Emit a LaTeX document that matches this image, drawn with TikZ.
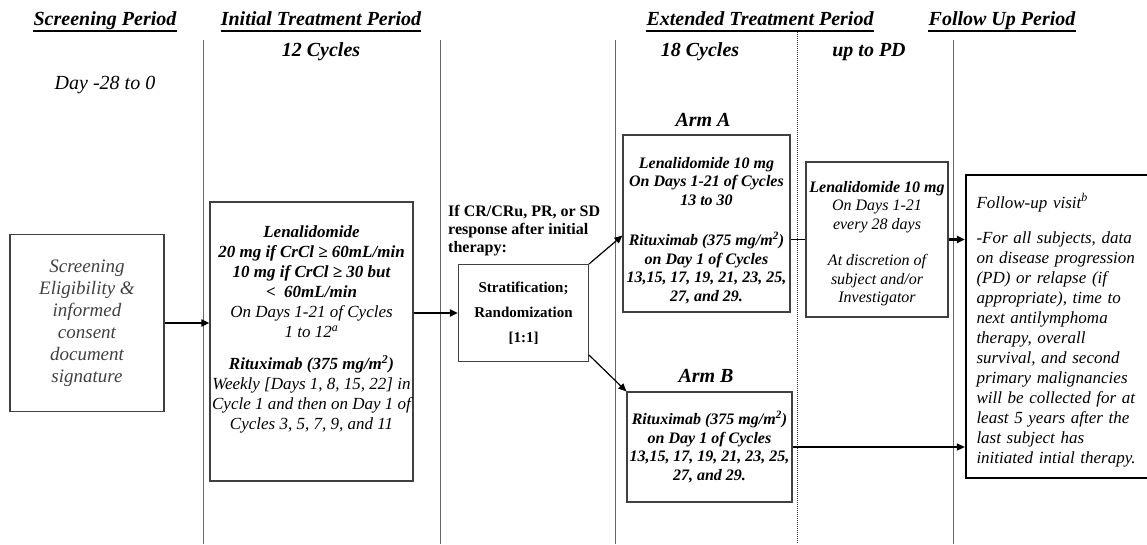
\documentclass[tikz,border=0pt]{standalone}
\usepackage{fontspec}
\setmainfont{Liberation Serif}
\usetikzlibrary{arrows.meta}

\begin{document}
\begin{tikzpicture}[x=1pt, y=-1pt,
		period/.style={inner sep=0pt, text depth=5pt, font=\fontsize{20}{24}\selectfont\bfseries\itshape},
		sublabel/.style={font=\fontsize{20}{24}\selectfont\itshape},
		armlabel/.style={font=\fontsize{20}{24}\selectfont\bfseries\itshape},
		box/.style={draw=black!75, line width=1.1pt, align=center, inner sep=2pt,
			font=\fontsize{16}{19}\selectfont\itshape},
		colline/.style={black!60, line width=0.9pt},
		thickarrow/.style={line width=2.2pt, -{Triangle[length=8pt,width=7pt]}},
		thinarrow/.style={line width=1.2pt, -{Triangle[length=8pt,width=7pt]}}
	]
		\useasboundingbox (0,0) rectangle (1147,544);

		% column separators
		\foreach \xx in {203,440,615,953}
			\draw [colline] (\xx,40) -- (\xx,544);
		\draw [densely dotted, black!80, line width=1pt] (797,30) -- (797,544);

		% period headings
		\node [period] (scrHd)	at (105,21) {Screening Period};
		\node [period] (initHd)	at (321,21) {Initial Treatment Period};
		\node [period] (extHd)	at (760,21) {Extended Treatment Period};
		\node [period] (fuHd)	at (1002,21) {Follow Up Period};
		\foreach \hd in {scrHd,initHd,extHd,fuHd}
			\draw [line width=1.8pt] (\hd.south west) -- (\hd.south east);

		\node [armlabel] (initCyc)	at (321,52) {12 Cycles};
		\node [sublabel] (scrDays)	at (105,85) {Day -28 to 0};
		\node [armlabel] (extCyc)	at (700,52) {18 Cycles};
		\node [armlabel] (extPD)	at (869,52) {up to PD};
		\node [armlabel] (armAHd)	at (703,120) {Arm A};
		\node [armlabel] (armBHd)	at (706,376) {Arm B};

		% boxes
		\node [box, minimum width=154, minimum height=177, text=black!75,
			font=\fontsize{19}{22}\selectfont\itshape] (scr) at (87,323)
			{Screening\\Eligibility \&\\informed\\consent\\document\\signature};

		\node [box, minimum width=203, minimum height=279, font=\fontsize{17}{20}\selectfont\itshape] (init) at (311.5,341.5)
			{\textbf{Lenalidomide}\\
			\textbf{20 mg if CrCl ≥ 60mL/min}\\
			\textbf{10 mg if CrCl ≥ 30 but}\\
			\textbf{<\ \ 60mL/min}\\
			On Days 1-21 of Cycles\\
			1 to 12\textsuperscript{a}\\[12pt]
			\textbf{Rituximab (375 mg/m\textsuperscript{2})}\\
			Weekly [Days 1, 8, 15, 22] in\\
			Cycle 1 and then on Day 1 of\\
			Cycles 3, 5, 7, 9, and 11\\[8pt]
			\mbox{}};

		\node [anchor=north west, align=left, inner sep=0pt,
			font=\fontsize{16}{18}\selectfont\bfseries] (resp) at (448,205)
			{If CR/CRu, PR, or SD\\response after initial\\therapy:};

		\node [box, minimum width=130, minimum height=97,
			font=\fontsize{15}{25}\selectfont\bfseries] (strat) at (523.5,313)
			{Stratification;\\Randomization\\{[1:1]}};

		\node [box, minimum width=167, minimum height=177, font=\fontsize{16}{18.5}\selectfont\bfseries\itshape] (armA) at (706.5,223.5)
			{\rule{0pt}{25pt}Lenalidomide 10 mg\\
			On Days 1-21 of Cycles\\
			13 to 30\\[22pt]
			Rituximab (375 mg/m\textsuperscript{2})\\
			on Day 1 of Cycles\\
			13,15, 17, 19, 21, 23, 25,\\
			27, and 29.};

		\node [box, minimum width=165, minimum height=110, font=\fontsize{16}{18.5}\selectfont\bfseries\itshape] (armB) at (709.5,447)
			{Rituximab (375 mg/m\textsuperscript{2})\\
			on Day 1 of Cycles\\
			13,15, 17, 19, 21, 23, 25,\\
			27, and 29.};

		\node [box, minimum width=142, minimum height=155, font=\fontsize{16}{18.5}\selectfont\itshape] (pd) at (877,239.5)
			{\rule{0pt}{19pt}\textbf{Lenalidomide 10 mg}\\
			On Days 1-21\\
			every 28 days\\[18pt]
			At discretion of\\
			subject and/or\\
			Investigator};

		\node [draw, line width=2.2pt, minimum width=189, minimum height=303, text width=168,
			align=left, font=\fontsize{17}{20}\selectfont\itshape] (fu) at (1060.5,326.5)
			{\rule{0pt}{22pt}Follow-up visit\textsuperscript{b}\\[15pt]
			-For all subjects, data\\
			on disease progression\\
			(PD) or relapse (if\\
			appropriate), time to\\
			next antilymphoma\\
			therapy, overall\\
			survival, and second\\
			primary malignancies\\
			will be collected for at\\
			least 5 years after the\\
			last subject has\\
			initiated intial therapy.};

		% connectors
		\draw [thickarrow] (scr.east) -- (scr.east -| init.west);
		\draw [thickarrow] (strat.west -| init.east) -- (strat.west);
		\draw [thinarrow] (strat.north east) -- ([yshift=-12pt]armA.west);
		\draw [thinarrow] ([yshift=7pt]strat.south east) -- (armB.north west);
		\draw [line width=0.9pt] (pd.west -| armA.east) -- (pd.west);
		\draw [thickarrow] (pd.east) -- (pd.east -| fu.west);
		\draw [thinarrow] (armB.east) -- (armB.east -| fu.west);
	\end{tikzpicture}
\end{document}
